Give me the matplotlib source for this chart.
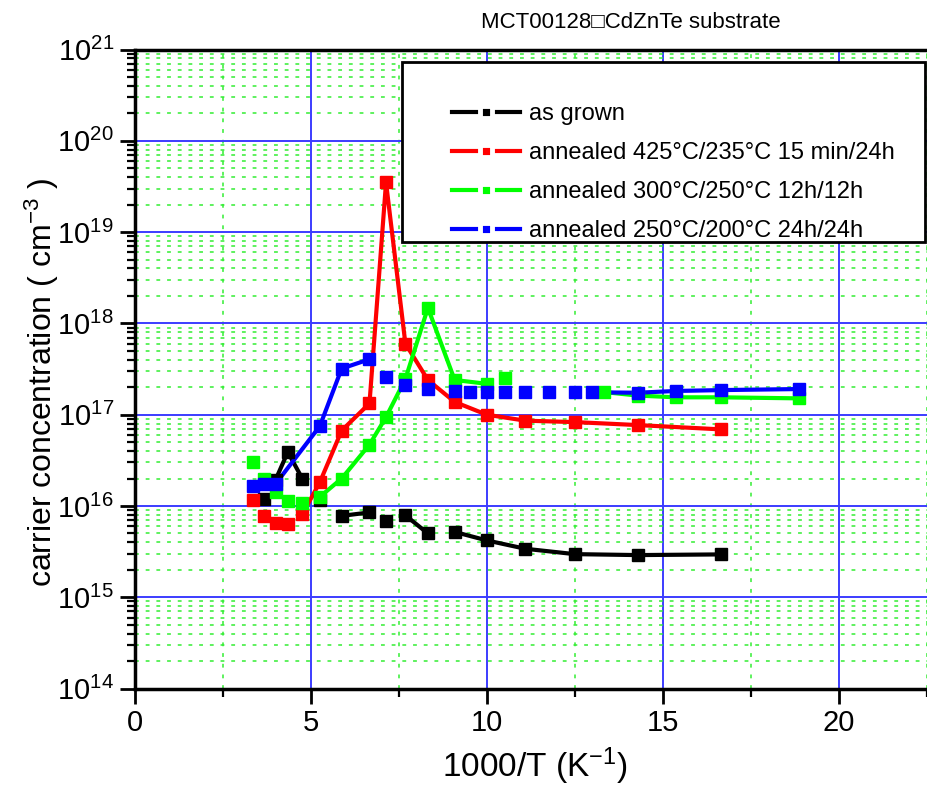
import matplotlib
matplotlib.use("Agg")
import matplotlib.pyplot as plt
from matplotlib import font_manager
from matplotlib.patches import Rectangle
from matplotlib.ticker import LogLocator, LogFormatterMathtext, MultipleLocator, NullFormatter
import numpy as np

# pick a narrow sans if present
family = "Liberation Sans"
try:
    font_manager.findfont("Liberation Sans Narrow", fallback_to_default=False)
    family = "Liberation Sans Narrow"
except Exception:
    pass

plt.rcParams["font.family"] = [family, "DejaVu Sans"]
plt.rcParams["mathtext.fontset"] = "custom"
plt.rcParams["mathtext.rm"] = family
plt.rcParams["mathtext.it"] = family
plt.rcParams["mathtext.bf"] = family

title = "MCT00128\u25a1CdZnTe substrate"
labels = [
    "as grown",
    "annealed 425\u00b0C/235\u00b0C 15 min/24h",
    "annealed 300\u00b0C/250\u00b0C 12h/12h",
    "annealed 250\u00b0C/200\u00b0C 24h/24h",
]

black_x = [3.68, 4.0, 4.35, 4.76, 5.26, 5.88, 6.67, 7.14, 7.69, 8.33, 9.09, 10.0, 11.1, 12.5, 14.29, 16.67]
black_y = [1.18e16, 1.93e16, 3.9e16, 2.0e16, 1.17e16, 7.8e15, 8.5e15, 6.9e15, 7.9e15, 5.0e15, 5.2e15,
           4.2e15, 3.4e15, 2.97e15, 2.9e15, 2.95e15]
black_runs = [(1, 3), (5, 6), (8, 9), (10, 15)]

red_x = [3.37, 3.68, 4.0, 4.35, 4.76, 5.26, 5.88, 6.67, 7.14, 7.69, 8.33, 9.09, 10.0, 11.1, 12.5, 14.29, 16.67]
red_y = [1.15e16, 7.8e15, 6.5e15, 6.3e15, 8.1e15, 1.82e16, 6.7e16, 1.33e17, 3.5e19, 6.0e17, 2.4e17,
         1.38e17, 1.0e17, 8.6e16, 8.3e16, 7.7e16, 6.9e16]
red_runs = [(4, 16)]

green_x = [3.37, 3.68, 4.0, 4.35, 4.76, 5.26, 5.88, 6.67, 7.14, 7.69, 8.33, 9.09, 10.0, 10.53,
           13.33, 14.29, 15.38, 16.67, 18.87]
green_y = [3.0e16, 2.0e16, 1.44e16, 1.14e16, 1.07e16, 1.26e16, 2.0e16, 4.7e16, 9.4e16, 2.46e17,
           1.48e18, 2.4e17, 2.18e17, 2.5e17, 1.77e17, 1.62e17, 1.55e17, 1.55e17, 1.51e17]
green_runs = [(5, 12), (14, 18)]

blue_x = [3.37, 3.68, 4.0, 5.26, 5.88, 6.67, 7.14, 7.69, 8.33, 9.09, 9.52, 10.0, 10.53, 11.1,
          11.76, 12.5, 12.99, 14.29, 15.38, 16.67, 18.87]
blue_y = [1.67e16, 1.74e16, 1.74e16, 7.5e16, 3.2e17, 4.05e17, 2.6e17, 2.13e17, 1.91e17, 1.82e17,
          1.78e17, 1.78e17, 1.77e17, 1.77e17, 1.77e17, 1.76e17, 1.76e17, 1.74e17, 1.82e17,
          1.86e17, 1.91e17]
blue_runs = [(0, 5), (16, 20)]

series = [
    (black_x, black_y, black_runs, "#000000"),
    (red_x, red_y, red_runs, "#ff0000"),
    (green_x, green_y, green_runs, "#00ff00"),
    (blue_x, blue_y, blue_runs, "#0000ff"),
]

W, H = 927, 791
fig = plt.figure(figsize=(W / 100, H / 100), dpi=100)
x0_px, top_px, bot_px, ppu = 134.7, 49.5, 688.6, 35.2
xmax = 22.6
ax = fig.add_axes([x0_px / W, 1 - bot_px / H, xmax * ppu / W, (bot_px - top_px) / H])

ax.set_xlim(0, xmax)
ax.set_yscale("log")
ax.set_ylim(1e14, 1e21)

ax.xaxis.set_major_locator(MultipleLocator(5))
ax.xaxis.set_minor_locator(MultipleLocator(2.5))
ax.yaxis.set_major_locator(LogLocator(base=10, numticks=20))
ax.yaxis.set_minor_locator(LogLocator(base=10, subs=np.arange(2, 10), numticks=20))
ax.yaxis.set_major_formatter(LogFormatterMathtext())
ax.yaxis.set_minor_formatter(NullFormatter())

ax.grid(which="major", color="#3c3cff", lw=1.4, ls="-", zorder=0)
ax.grid(which="minor", color="#33ee33", lw=1.1, ls=(0, (2.5, 4.5)), zorder=0)
ax.set_axisbelow(True)

handles = []
for xs, ys, runs, c in series:
    xs = np.asarray(xs)
    ys = np.asarray(ys)
    for a, b in runs:
        ax.plot(xs[a:b + 1], ys[a:b + 1], color=c, lw=3, solid_capstyle="butt", zorder=3)
    ax.plot(xs, ys, ls="none", marker="s", ms=9, color=c, mec=c, zorder=4)
    h, = ax.plot([], [], color=c, lw=3, marker="s", ms=9, mfc=c, mec="white", mew=3.5)
    handles.append(h)

for side in ["left", "bottom", "top"]:
    ax.spines[side].set_linewidth(2.5)
ax.spines["right"].set_visible(False)

ax.tick_params(axis="both", which="major", direction="out", length=11, width=2,
               labelsize=21, pad=4)
ax.tick_params(axis="both", which="minor", direction="out", length=6, width=1.6)

ax.set_xlabel("1000/T (K$^{-1}$)", fontsize=24, va="center")
ax.set_ylabel("carrier concentration ( cm$^{-3}$ )", fontsize=23, va="center")
ax.xaxis.set_label_coords(535 / W, 1 - 766 / H, transform=fig.transFigure)
ax.yaxis.set_label_coords(42 / W, 1 - 382 / H, transform=fig.transFigure)

fig.text(631 / W, 1 - 22 / H, title, ha="center", va="center", fontsize=16)

# legend box
box = Rectangle((402 / W, 1 - 242 / H), (W - 2 - 402) / W, (242 - 62) / H,
                transform=fig.transFigure, facecolor="white", edgecolor="black",
                lw=2, zorder=5)
fig.patches.append(box)
leg = fig.legend(handles, labels, loc="upper left", bbox_to_anchor=(452 / W, 1 - 103 / H),
                 frameon=False, fontsize=17, handlelength=2.9, handletextpad=0.35,
                 labelspacing=0.72, borderaxespad=0, borderpad=0)
leg.set_zorder(6)

fig.savefig("out.png", dpi=100)
